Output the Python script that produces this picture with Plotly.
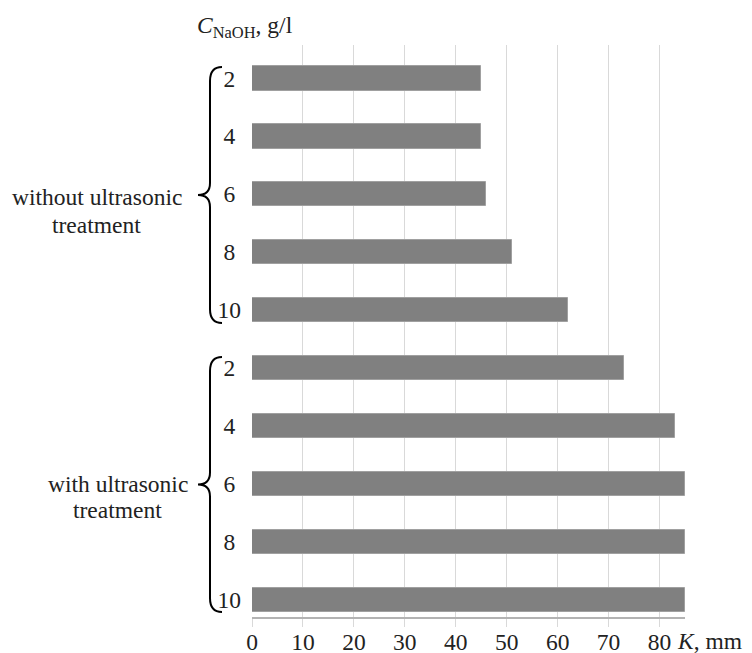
import plotly.graph_objects as go

concentrations = [2, 4, 6, 8, 10]
k_without = [45, 45, 46, 51, 62]
k_with = [73, 83, 85, 85, 85]
group_labels = [["without ultrasonic", "treatment"], ["with ultrasonic", "treatment"]]
x_ticks = [0, 10, 20, 30, 40, 50, 60, 70, 80]

# page body has an 8px default margin; figure sized to fill the rest of the window
OFF = 8
W, H = 744, 645
ML, MR, MT, MB = 244, 67, 37, 36
PW, PH = W - ML - MR, H - MT - MB
FONT = "Liberation Serif, Times New Roman, serif"
FS = 23.5

def px2x(px):
    return (px - OFF - ML) / PW

def py2y(py):
    return (H - MB - (py - OFF)) / PH

values = k_without + k_with
# labels centred in the label column: pad single digits with a half-digit-wide space
labels = [(str(c) + "\u00a0") if c < 10 else str(c) for c in concentrations] * 2
positions = list(range(len(values)))

fig = go.Figure()
fig.add_trace(go.Bar(
    x=values, y=positions, orientation="h", width=0.423,
    marker=dict(color="#808080", line=dict(color="#a0a0a0", width=1)),
    showlegend=False, hoverinfo="x",
))

fig.update_layout(
    width=W, height=H,
    margin=dict(l=ML, r=MR, t=MT, b=MB, pad=0, autoexpand=False),
    plot_bgcolor="white", paper_bgcolor="white",
    font=dict(family=FONT, size=FS, color="#222222"),
    bargap=0,
    xaxis=dict(range=[0, 85], tickvals=x_ticks, showgrid=True, gridcolor="#d9d9d9", gridwidth=1,
               ticks="outside", ticklen=8, tickcolor="#d9d9d9", tickwidth=1,
               ticklabelstandoff=-5,
               showline=True, linecolor="#b3b3b3", linewidth=1.5, automargin=False,
               zeroline=False, tickfont=dict(size=FS), fixedrange=True),
    yaxis=dict(range=[9.297, -0.575], tickvals=positions, ticktext=labels,
               showgrid=False, zeroline=False, showline=False, ticks="", automargin=False,
               ticklabelstandoff=10, tickfont=dict(size=FS), fixedrange=True),
)

annotations = []
annotations.append(dict(xref="paper", yref="paper", x=px2x(195), y=py2y(27), xanchor="left", yanchor="middle",
                        text="<i>C</i><sub>NaOH</sub>, g/l", showarrow=False, font=dict(size=FS)))
annotations.append(dict(xref="paper", yref="paper", x=px2x(675), y=py2y(641), xanchor="left", yanchor="middle",
                        text="<i>K</i>, mm", showarrow=False, font=dict(size=FS)))

group_text_pos = [(96.5, 197, 225), (117.5, 484, 510)]
for (cx, y1, y2), lines in zip(group_text_pos, group_labels):
    annotations.append(dict(xref="paper", yref="paper", x=px2x(cx), y=py2y(y1), xanchor="center", yanchor="middle",
                            text=lines[0], showarrow=False, font=dict(size=FS)))
    annotations.append(dict(xref="paper", yref="paper", x=px2x(cx), y=py2y(y2), xanchor="center", yanchor="middle",
                            text=lines[1], showarrow=False, font=dict(size=FS)))
fig.update_layout(annotations=annotations)

def brace_path(top, bottom, tip_x=198, line_x=210, hook_x=222):
    mid = (top + bottom) / 2
    pts = [
        ("M", [(hook_x, top)]),
        ("Q", [(line_x, top), (line_x, top + 14)]),
        ("L", [(line_x, mid - 12)]),
        ("Q", [(line_x, mid), (tip_x, mid)]),
        ("Q", [(line_x, mid), (line_x, mid + 12)]),
        ("L", [(line_x, bottom - 14)]),
        ("Q", [(line_x, bottom), (hook_x, bottom)]),
    ]
    s = ""
    for cmd, ps in pts:
        s += cmd + " " + " ".join(f"{px2x(a):.5f},{py2y(b):.5f}" for a, b in ps) + " "
    return s.strip()

shapes = []
for top, bottom in [(67, 323), (357, 612)]:
    shapes.append(dict(type="path", xref="paper", yref="paper", path=brace_path(top, bottom),
                       line=dict(color="black", width=2), fillcolor="rgba(0,0,0,0)"))
fig.update_layout(shapes=shapes)

fig.write_html("out.html")
